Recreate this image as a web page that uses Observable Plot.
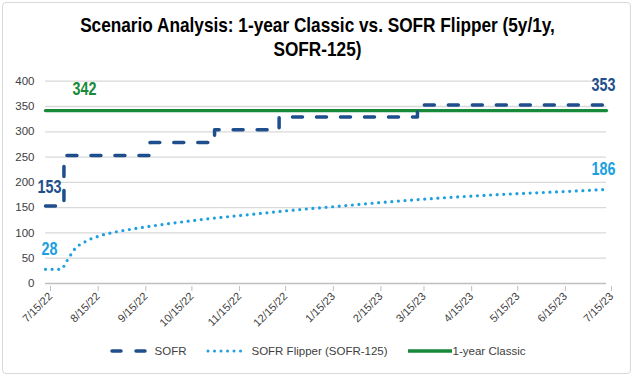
<!DOCTYPE html>
<html><head><meta charset="utf-8">
<script src="https://cdn.jsdelivr.net/npm/d3@7"></script>
<script src="https://cdn.jsdelivr.net/npm/@observablehq/plot@0.6"></script>
<style>
body{margin:0;background:#fff;width:635px;height:378px;overflow:hidden;position:relative;}
#card{position:absolute;left:2px;top:2px;width:629px;height:372px;border:1px solid #d9d9d9;border-radius:4px;box-sizing:border-box;}
#title{position:absolute;left:0;top:13px;width:635px;text-align:center;font-family:"Liberation Sans",Arial,sans-serif;font-weight:bold;font-size:21px;line-height:24px;color:#000;transform:scaleX(0.82);transform-origin:317.5px 0;}
#chart{position:absolute;left:0;top:62px;}
#legend{position:absolute;left:0;top:345px;width:635px;display:flex;justify-content:center;align-items:center;font-family:"Liberation Sans",Arial,sans-serif;font-size:11.5px;color:#404040;}
#legend .item{display:flex;align-items:center;margin:0 10px;}
#legend svg{margin-right:5px;}
</style></head>
<body>
<div id="card"></div>
<div id="title">Scenario Analysis: 1-year Classic vs. SOFR Flipper (5y/1y,<br>SOFR-125)</div>
<div id="chart"></div>
<div id="legend"></div>
<script>
const tickLabels = ["7/15/22","8/15/22","9/15/22","10/15/22","11/15/22","12/15/22","1/15/23","2/15/23","3/15/23","4/15/23","5/15/23","6/15/23","7/15/23"];
const yTicks = [0,50,100,150,200,250,300,350,400];

const sofrDates  = ["7/15/22","7/27/22","9/21/22","11/2/22","12/14/22","3/14/23","7/15/23"];
const sofrValues = [153,253,279,304,329,353,353];

const flipperDates  = ["7/15/22","7/25/22","7/29/22","8/3/22","8/10/22","8/19/22","8/28/22","9/10/22","9/23/22","10/10/22","11/1/22","11/27/22","12/23/22","1/15/23","2/10/23","3/24/23","5/7/23","6/19/23","7/15/23"];
const flipperValues = [28,28,45,68,83,94,101,108,114,121,129,137,145,151,158,168,176,182,186];

const classicDates  = ["7/15/22","7/15/23"];
const classicValues = [342,342];

const seriesNames = ["SOFR","SOFR Flipper (SOFR-125)","1-year Classic"];
const colors = {sofr:"#1f4e8c", flipper:"#1d9fe0", classic:"#178a3a"};

const parse = d3.utcParse("%m/%d/%y");
const rows = (dates, vals) => dates.map((d,i)=>({date:parse(d), value:vals[i]}));
const sofr = rows(sofrDates, sofrValues);
const flipper = rows(flipperDates, flipperValues);
const classic = rows(classicDates, classicValues);
const tickDates = tickLabels.map(parse);
const fmt = d => `${d.getUTCMonth()+1}/${d.getUTCDate()}/${String(d.getUTCFullYear()).slice(2)}`;
const first = a => [a[0]];
const last = a => [a[a.length-1]];
const lblFont = {fontFamily:"'Liberation Sans',Arial,sans-serif", fontWeight:"bold", fontSize:17.5};

const chart = Plot.plot({
  width:635, height:273,
  marginTop:18.7, marginBottom:52, marginLeft:45, marginRight:29,
  style:{fontFamily:"'Liberation Sans',Arial,sans-serif", fontSize:"11px", color:"#404040", background:"transparent"},
  x:{type:"utc", domain:[tickDates[0], tickDates[tickDates.length-1]]},
  y:{domain:[0,400]},
  marks:[
    Plot.ruleY(yTicks.filter(v=>v>0), {stroke:"#d9d9d9", strokeWidth:1.3}),
    Plot.ruleY([0], {stroke:"#bfbfbf", strokeWidth:1.3}),
    Plot.axisX(tickDates, {tickRotate:-45, tickSize:5, tickPadding:3, dx:5, dy:3, stroke:"#bfbfbf", tickFormat:fmt, label:null}),
    Plot.axisY(yTicks, {tickSize:0, tickPadding:11, fontSize:11.5, label:null}),
    Plot.line(classic, {x:"date", y:"value", stroke:colors.classic, strokeWidth:3.3}),
    Plot.line(sofr, {x:"date", y:"value", curve:"step-after", stroke:colors.sofr, strokeWidth:3.5, strokeDasharray:"10,14", strokeLinecap:"round"}),
    Plot.line(flipper, {x:"date", y:"value", curve:"monotone-x", stroke:colors.flipper, strokeWidth:3.2, strokeDasharray:"0,6.6", strokeLinecap:"round"}),
    Plot.text(first(classic), {x:"date", y:"value", text:d=>String(d.value), dx:39, dy:-21, fill:colors.classic, ...lblFont}),
    Plot.text(first(sofr), {x:"date", y:"value", text:d=>String(d.value), dx:4, dy:-19, fill:colors.sofr, ...lblFont}),
    Plot.text(first(flipper), {x:"date", y:"value", text:d=>String(d.value), dx:4, dy:-20, fill:colors.flipper, ...lblFont}),
    Plot.text(last(sofr), {x:"date", y:"value", text:d=>String(d.value), dx:-3, dy:-20, fill:colors.sofr, ...lblFont}),
    Plot.text(last(flipper), {x:"date", y:"value", text:d=>String(d.value), dx:-3, dy:-20, fill:colors.flipper, ...lblFont})
  ]
});
// emulate narrow bold font for data labels
d3.select(chart).selectAll('g[aria-label="text"] text').each(function(){
  const t = this.getAttribute("transform") || "";
  this.setAttribute("transform", t + " scale(0.82,1)");
});
document.getElementById("chart").appendChild(chart);

// legend
const legend = document.getElementById("legend");
const swatches = [
  `<svg width="40" height="8"><line x1="2" y1="4" x2="38" y2="4" stroke="${colors.sofr}" stroke-width="3.5" stroke-dasharray="9,15" stroke-linecap="round"/></svg>`,
  `<svg width="40" height="8"><line x1="2" y1="4" x2="38" y2="4" stroke="${colors.flipper}" stroke-width="3" stroke-dasharray="0,6.5" stroke-linecap="round"/></svg>`,
  `<svg width="44" height="8"><line x1="0" y1="4" x2="44" y2="4" stroke="${colors.classic}" stroke-width="3.3"/></svg>`
];
seriesNames.forEach((n,i)=>{
  const it = document.createElement("div");
  it.className="item";
  it.innerHTML = swatches[i] + `<span>${n}</span>`;
  if (i===2) it.querySelector("svg").style.marginRight="1px";
  legend.appendChild(it);
});
</script>
</body></html>
